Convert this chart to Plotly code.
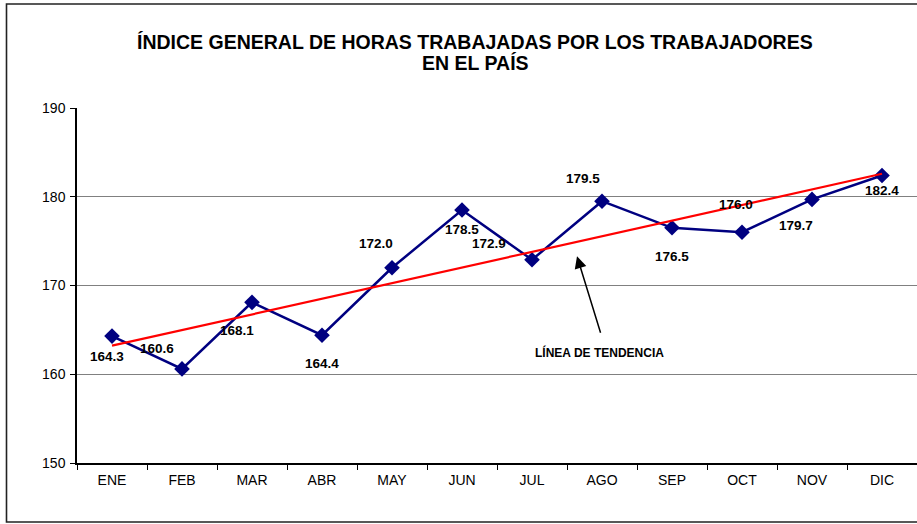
import numpy as np
import plotly.graph_objects as go

months = ["ENE", "FEB", "MAR", "ABR", "MAY", "JUN", "JUL", "AGO", "SEP", "OCT", "NOV", "DIC"]
values = [164.3, 160.6, 168.1, 164.4, 172.0, 178.5, 172.9, 179.5, 176.5, 176.0, 179.7, 182.4]
y_ticks = [150, 160, 170, 180, 190]

# label offsets (pixels) relative to each marker
label_dx = [-5, -25, -15, 0, -16, 0, -43, -19, 0, -6, -16, 0]
label_dy = [-20, 20, -28, -28, 24, -19, 16, 23, -29, 28, -26, -15]

idx = np.arange(len(values))
slope, intercept = np.polyfit(idx, values, 1)
trend = slope * idx + intercept

FONT = "Liberation Sans, Arial, sans-serif"

fig = go.Figure()
fig.add_trace(go.Scatter(
    x=months, y=values, mode="lines+markers",
    line=dict(color="#000080", width=2.5),
    marker=dict(symbol="diamond", size=12, color="#000080"),
    showlegend=False, hoverinfo="skip"))
fig.add_trace(go.Scatter(
    x=[months[0], months[-1]], y=[trend[0], trend[-1]], mode="lines",
    line=dict(color="#ff0000", width=2.2),
    showlegend=False, hoverinfo="skip"))

ann = []
for m, v, dx, dy in zip(months, values, label_dx, label_dy):
    ann.append(dict(x=m, y=v, xref="x", yref="y", text=f"{v:.1f}", showarrow=False,
                    xshift=dx, yshift=dy,
                    font=dict(family=FONT, size=13.5, color="#000000", weight="bold")))

# arrow to trend line
ann.append(dict(x=6.643, y=173.3, xref="x", yref="y", ax=6.986, ay=164.5, axref="x", ayref="y",
                text="", showarrow=True, arrowhead=2, arrowsize=1.6, arrowwidth=1.5, arrowcolor="#000000"))
ann.append(dict(x=6.97, y=162.4, xref="x", yref="y", text="LÍNEA DE TENDENCIA", showarrow=False,
                font=dict(family=FONT, size=12, color="#000000", weight="bold")))

title_font = dict(family=FONT, size=19.5, color="#000000", weight="bold")
ann.append(dict(x=(475 - 77) / 840, y=(463 - 42) / 355, xref="paper", yref="paper", yanchor="middle",
                text="ÍNDICE GENERAL DE HORAS TRABAJADAS POR LOS TRABAJADORES",
                showarrow=False, font=title_font))
ann.append(dict(x=(475 - 77) / 840, y=(463 - 63) / 355, xref="paper", yref="paper", yanchor="middle",
                text="EN EL PAÍS", showarrow=False, font=title_font))

fig.update_layout(
    width=917, height=524,
    margin=dict(l=77, r=0, t=108, b=61),
    paper_bgcolor="white", plot_bgcolor="white",
    annotations=ann,
    shapes=[dict(type="rect", xref="paper", yref="paper",
                 x0=(6.5 - 77) / 840, x1=1.05, y0=(463 - 522) / 355, y1=(463 - 4) / 355,
                 line=dict(color="#222222", width=1.6), fillcolor="rgba(0,0,0,0)", layer="below")],
    xaxis=dict(type="category", categoryorder="array", categoryarray=months,
               range=[-0.5, 11.5], showgrid=False, showline=True, linecolor="#000000", linewidth=1.5,
               ticks="outside", tickson="boundaries", ticklen=5, tickcolor="#000000",
               ticklabelstandoff=3,
               tickfont=dict(family=FONT, size=14, color="#000000"), fixedrange=True),
    yaxis=dict(range=[150, 190], tickvals=y_ticks, showgrid=True, gridcolor="#808080", gridwidth=1,
               showline=True, linecolor="#000000", linewidth=1.5, ticks="outside", ticklen=5,
               tickcolor="#000000", zeroline=False, ticklabelstandoff=2,
               tickfont=dict(family=FONT, size=14, color="#000000")),
)

fig.write_html("out.html", config={"displayModeBar": False},
               post_script="document.body.style.margin='0';document.body.style.padding='0';")
